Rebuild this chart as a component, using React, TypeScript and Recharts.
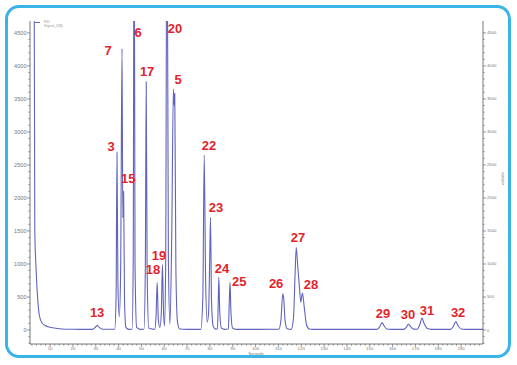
import { ComposedChart, Line, Scatter, XAxis, YAxis } from "recharts";

// trace points: [seconds, mV]
const solventFront: [number, number][] = [
  [1.2, 9000], [2.9, 7000], [3.3, 1500], [3.9, 900], [4.4, 560], [5.3, 220],
  [6.5, 105], [8, 65], [10, 42], [14, 20], [20, 11], [26, 10],
  [28.5, 10], [29.7, 35], [30.6, 70], [31.5, 40], [33, 12],
];

const earlyPeaks: [number, number][] = [
  [38.3, 12], [38.9, 500], [39.3, 2690], [39.7, 700], [40.3, 200], [40.9, 900],
  [41.5, 4260], [41.85, 1700], [42.2, 2100], [42.6, 450], [43.2, 40], [44.5, 10],
  [45.9, 12], [46.4, 1000], [46.8, 7000], [47.2, 1000], [47.9, 40], [49.5, 10],
  [51.1, 12], [51.7, 900], [52.1, 3760], [52.5, 900], [53.2, 30], [55.8, 10],
  [56.4, 200], [56.9, 718], [57.4, 160], [58.1, 40], [58.7, 250], [59.2, 990],
  [59.7, 250], [60.1, 60], [60.6, 900], [61.2, 7000], [61.8, 1100], [62.5, 90],
  [63.3, 1500], [64.0, 3650], [64.35, 3400], [64.6, 3580], [65.1, 900],
  [65.8, 120], [66.8, 15], [70, 10],
];

const midPeaks: [number, number][] = [
  [76.0, 10], [76.9, 500], [77.5, 2650], [78.1, 800], [78.8, 120], [79.4, 250],
  [79.9, 1050], [80.25, 1705], [80.7, 450], [81.4, 60], [82.5, 14],
  [83.3, 20], [83.6, 350], [83.9, 800], [84.3, 280], [85, 30], [86.5, 10],
  [88.1, 15], [88.4, 330], [88.8, 722], [89.2, 280], [89.9, 30], [91.5, 10],
  [100, 10],
];

const latePeaks: [number, number][] = [
  [110.2, 12], [111.1, 150], [111.9, 550], [112.3, 480], [112.9, 150], [113.8, 20],
  [115.6, 10], [116.6, 180], [117.3, 850], [117.8, 1248], [118.5, 950],
  [119.2, 650], [119.8, 420], [120.5, 560], [121.3, 350], [122.3, 80],
  [123.5, 15], [125, 10], [140, 10],
  [153.2, 10], [154.4, 50], [155.4, 112], [156.3, 60], [157.6, 15], [159.5, 10],
  [164.8, 10], [166, 40], [167, 92], [167.9, 50], [169.2, 14],
  [170.8, 12], [171.9, 80], [172.9, 180], [173.8, 100], [175.2, 22], [177, 10],
  [185.4, 10], [186.7, 60], [187.7, 127], [188.6, 70], [190, 15], [192, 10],
  [199.6, 10],
];

// peak numbers and where their labels sit (seconds, mV)
const peakIds = ["13", "3", "7", "15", "6", "20", "17", "5", "22", "23", "19", "18", "24", "25", "26", "27", "28", "29", "30", "31", "32"];
const peakLabelT = [30.6, 36.7, 35.4, 44.2, 48.5, 64.7, 52.5, 66.1, 79.6, 82.7, 57.7, 55.1, 85.3, 92.8, 109.0, 118.6, 124.3, 155.8, 166.8, 175.1, 188.7];
const peakLabelV = [260, 2780, 4230, 2290, 4500, 4560, 3910, 3800, 2800, 1850, 1130, 916, 930, 730, 700, 1400, 690, 244, 229, 290, 260];

const xMajor = [10, 20, 30, 40, 50, 60, 70, 80, 90, 100, 110, 120, 130, 140, 150, 160, 170, 180, 190];
const yMajor = [0, 500, 1000, 1500, 2000, 2500, 3000, 3500, 4000, 4500];

const X_DOMAIN: [number, number] = [1.2, 199.6];
const Y_DOMAIN: [number, number] = [-212, 4680];

const xTicks = Array.from({ length: 99 }, (_, i) => 2 + i * 2);
const yTicks = Array.from({ length: 48 }, (_, i) => -200 + i * 100);

const rows = [...solventFront, ...earlyPeaks, ...midPeaks, ...latePeaks].map(([t, v]) => ({ t, v }));
const labelRows = peakIds.map((id, i) => ({ id, t: peakLabelT[i], y: peakLabelV[i] }));

const AXIS = "#555";
const TICK_TXT = "#777";
const TRACE = "#6064bd";

function BottomTick(props: any) {
  const { x, y, payload } = props;
  const v = payload.value;
  const major = xMajor.includes(v);
  return (
    <g>
      <line x1={x} x2={x} y1={y} y2={y + (major ? 3 : 1.6)} stroke={AXIS} strokeWidth={0.6} />
      {major && (
        <text x={x} y={y + 6} textAnchor="middle" fontSize={4.4} fill={TICK_TXT} fontFamily="Arial, sans-serif">
          {v}
        </text>
      )}
    </g>
  );
}

function LeftTick(props: any) {
  const { x, y, payload } = props;
  const v = payload.value;
  const major = yMajor.includes(v);
  return (
    <g>
      <line x1={x} x2={x - (major ? 3 : 1.6)} y1={y} y2={y} stroke={AXIS} strokeWidth={0.6} />
      {major && (
        <text x={x - 3.5} y={y + 2} textAnchor="end" fontSize={5.6} fill={TICK_TXT} fontFamily="Arial, sans-serif">
          {v}
        </text>
      )}
    </g>
  );
}

function RightTick(props: any) {
  const { x, y, payload } = props;
  const v = payload.value;
  const major = yMajor.includes(v);
  return (
    <g>
      <line x1={x} x2={x + (major ? 3 : 1.6)} y1={y} y2={y} stroke={AXIS} strokeWidth={0.6} />
      {major && (
        <text x={x + 4} y={y + 1.5} textAnchor="start" fontSize={4.2} fill={TICK_TXT} fontFamily="Arial, sans-serif">
          {v}
        </text>
      )}
    </g>
  );
}

function PeakLabel(props: any) {
  const { cx, cy, payload } = props;
  return (
    <text
      x={cx}
      y={cy}
      textAnchor="middle"
      dominantBaseline="central"
      fontSize={13}
      fontWeight="bold"
      fill="#e3232b"
      fontFamily="'Liberation Sans', Arial, sans-serif"
    >
      {payload.id}
    </text>
  );
}

export default function App() {
  return (
    <div style={{ position: "relative", width: 517, height: 365, background: "#fff" }}>
      <style>{`body{margin:0}`}</style>
      <ComposedChart width={517} height={365} data={rows} margin={{ top: 21, right: 10, bottom: 0, left: 8 }}>
        <XAxis
          dataKey="t"
          type="number"
          domain={X_DOMAIN}
          allowDataOverflow
          ticks={xTicks}
          interval={0}
          tickSize={0}
          tickMargin={0}
          tickLine={false}
          tick={<BottomTick />}
          height={21}
          axisLine={{ stroke: AXIS, strokeWidth: 0.8 }}
        />
        <XAxis
          xAxisId="top"
          orientation="top"
          dataKey="t"
          type="number"
          domain={X_DOMAIN}
          allowDataOverflow
          height={0}
          tick={false}
          tickLine={false}
          axisLine={{ stroke: "#999", strokeWidth: 0.8 }}
        />
        <YAxis
          yAxisId="left"
          type="number"
          domain={Y_DOMAIN}
          allowDataOverflow
          ticks={yTicks}
          interval={0}
          tickSize={0}
          tickMargin={0}
          tickLine={false}
          tick={<LeftTick />}
          width={22}
          axisLine={{ stroke: AXIS, strokeWidth: 0.8 }}
        />
        <YAxis
          yAxisId="right"
          orientation="right"
          type="number"
          domain={Y_DOMAIN}
          allowDataOverflow
          ticks={yTicks}
          interval={0}
          tickSize={0}
          tickMargin={0}
          tickLine={false}
          tick={<RightTick />}
          width={24}
          axisLine={{ stroke: AXIS, strokeWidth: 0.8 }}
        />
        <Line
          yAxisId="left"
          type="monotone"
          dataKey="v"
          stroke={TRACE}
          strokeWidth={1.1}
          dot={false}
          isAnimationActive={false}
        />
        <Scatter
          yAxisId="left"
          data={labelRows}
          dataKey="y"
          shape={<PeakLabel />}
          isAnimationActive={false}
        />
      </ComposedChart>

      {/* legend, top-left */}
      <div style={{ position: "absolute", left: 35, top: 20, fontFamily: "Arial, sans-serif", fontSize: 3.6, color: "#999", lineHeight: "4px" }}>
        <div style={{ display: "flex", alignItems: "center" }}>
          <span style={{ display: "inline-block", width: 5, height: 0, borderTop: `0.8px solid ${TRACE}`, marginRight: 4 }} />
          FID
        </div>
        <div style={{ paddingLeft: 9 }}>Signal_2(B)</div>
      </div>

      {/* axis titles */}
      <div style={{ position: "absolute", left: 0, width: 512, top: 351.5, textAlign: "center", fontFamily: "Arial, sans-serif", fontSize: 4, lineHeight: "4px", color: "#777" }}>
        Seconds
      </div>
      <div
        style={{
          position: "absolute",
          left: 490,
          top: 176,
          width: 24,
          textAlign: "center",
          transform: "rotate(-90deg)",
          fontFamily: "Arial, sans-serif",
          fontSize: 4.2,
          color: "#777",
        }}
      >
        mVolts
      </div>

      {/* rounded frame */}
      <div
        style={{
          position: "absolute",
          left: 5,
          top: 5,
          width: 506,
          height: 353,
          boxSizing: "border-box",
          border: "3px solid #3ab4e6",
          borderRadius: 14,
          pointerEvents: "none",
        }}
      />
    </div>
  );
}
